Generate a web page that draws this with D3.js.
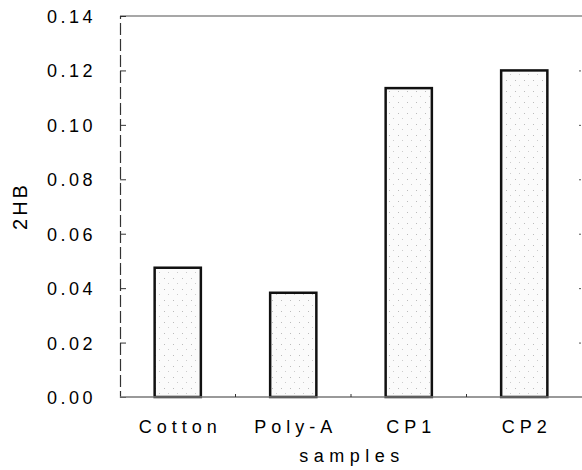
<!DOCTYPE html>
<html>
<head>
<meta charset="utf-8">
<script src="https://cdn.jsdelivr.net/npm/d3@7"></script>
<style>
  body { margin: 0; background: #fff; }
  text { font-family: "Liberation Sans", Arial, sans-serif; fill: #000; }
</style>
</head>
<body>
<div class="chart"></div>
<script>
var categories = ["Cotton", "Poly-A", "CP1", "CP2"];
var values = [0.0475, 0.0383, 0.1135, 0.1200];
var yTicks = [0, 0.02, 0.04, 0.06, 0.08, 0.10, 0.12, 0.14];

var width = 582, height = 470;
var plotLeft = 120, plotRight = 582, plotTop = 16, plotBottom = 397;

var svg = d3.select(".chart").append("svg")
    .attr("width", width)
    .attr("height", height);

// stipple fill for the bars
var pat = svg.append("defs").append("pattern")
    .attr("id", "dots")
    .attr("patternUnits", "userSpaceOnUse")
    .attr("width", 9).attr("height", 11);
pat.append("rect").attr("width", 9).attr("height", 11).attr("fill", "#fbfbfb");
pat.append("rect").attr("x", 2).attr("y", 3).attr("width", 1).attr("height", 1).attr("fill", "#bbb");
pat.append("rect").attr("x", 6).attr("y", 8).attr("width", 1).attr("height", 1).attr("fill", "#ccc");

var x = d3.scaleBand()
    .domain(categories)
    .range([plotLeft, plotRight])
    .paddingInner(0.6)
    .paddingOuter(0.3);

var y = d3.scaleLinear()
    .domain([0, 0.14])
    .range([plotBottom, plotTop]);

// top grey line
svg.append("line")
    .attr("x1", plotLeft).attr("x2", plotRight)
    .attr("y1", plotTop).attr("y2", plotTop)
    .attr("stroke", "#8a8a8a").attr("stroke-width", 1.5);

// y axis, ticks pointing inward
var yAxis = d3.axisRight(y)
    .tickValues(yTicks)
    .tickSize(6)
    .tickFormat("");
var gy = svg.append("g")
    .attr("transform", "translate(" + plotLeft + ",0)")
    .call(yAxis);
gy.select(".domain").attr("stroke", "#333").attr("stroke-dasharray", "12 4").attr("stroke-width", 1.2);
gy.selectAll(".tick line").attr("stroke", "#333");

// tiny ticks on right edge
svg.append("g")
    .attr("transform", "translate(" + (plotRight - 1) + ",0)")
    .call(d3.axisLeft(y).tickValues(yTicks.slice(1, 7)).tickSize(2).tickFormat(""))
    .call(function (g) { g.select(".domain").remove(); })
    .selectAll(".tick line").attr("stroke", "#555");

// y labels
svg.append("g").selectAll("text")
    .data(yTicks)
    .enter().append("text")
    .attr("x", 96)
    .attr("y", function (d) { return y(d) + 7; })
    .attr("text-anchor", "end")
    .style("font-size", "18px")
    .style("letter-spacing", "3.5px")
    .text(function (d) { return d.toFixed(2); });

// bars
svg.selectAll("rect.bar")
    .data(values)
    .enter().append("rect")
    .attr("class", "bar")
    .attr("x", function (d, i) { return x(categories[i]); })
    .attr("width", x.bandwidth())
    .attr("y", function (d) { return y(d); })
    .attr("height", function (d) { return y(0) - y(d); })
    .attr("fill", "url(#dots)")
    .attr("stroke", "#111")
    .attr("stroke-width", 2.5);

// x baseline
svg.append("line")
    .attr("x1", plotLeft).attr("x2", plotRight)
    .attr("y1", plotBottom).attr("y2", plotBottom)
    .attr("stroke", "#777").attr("stroke-width", 1.5);

// small ticks between categories
var step = x.step();
svg.append("g").selectAll("line")
    .data(categories.slice(1))
    .enter().append("line")
    .attr("x1", function (d) { return x(d) - (step - x.bandwidth()) / 2; })
    .attr("x2", function (d) { return x(d) - (step - x.bandwidth()) / 2; })
    .attr("y1", plotBottom).attr("y2", plotBottom - 3)
    .attr("stroke", "#333");

// x labels
svg.append("g").selectAll("text")
    .data(categories)
    .enter().append("text")
    .attr("x", function (d) { return x(d) + x.bandwidth() / 2 + 2.5; })
    .attr("y", 433)
    .attr("text-anchor", "middle")
    .style("font-size", "18px")
    .style("letter-spacing", "5px")
    .text(function (d) { return d; });

// axis titles
svg.append("text")
    .attr("x", 352)
    .attr("y", 462)
    .attr("text-anchor", "middle")
    .style("font-size", "18px")
    .style("letter-spacing", "5.5px")
    .text("samples");

svg.append("text")
    .attr("transform", "translate(27,206) rotate(-90)")
    .attr("text-anchor", "middle")
    .style("font-size", "20px")
    .style("letter-spacing", "3px")
    .text("2HB");
</script>
</body>
</html>
